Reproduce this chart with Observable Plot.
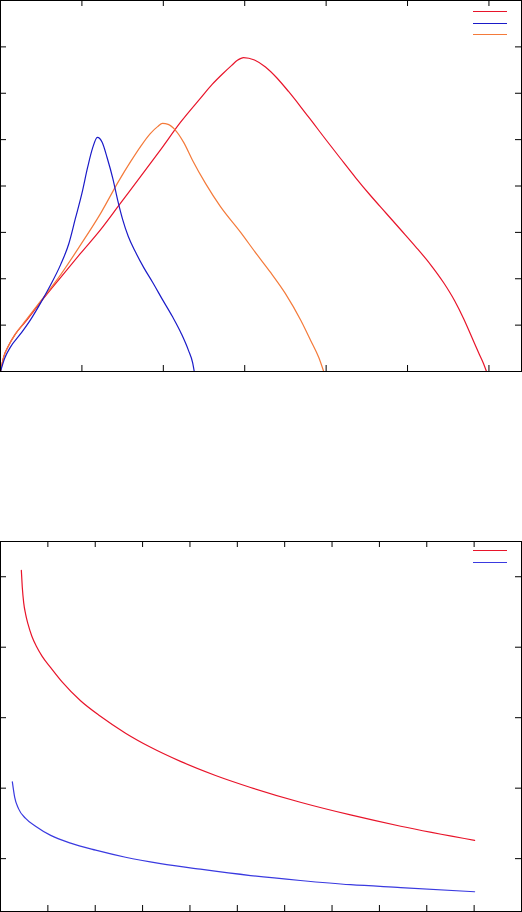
<!DOCTYPE html>
<html>
<head>
<meta charset="utf-8">
<script src="https://cdn.jsdelivr.net/npm/d3@7"></script>
<script src="https://cdn.jsdelivr.net/npm/@observablehq/plot@0.6"></script>
<style>
  html, body { margin: 0; padding: 0; background: #ffffff; }
  #wrap { position: relative; width: 522px; height: 912px; overflow: hidden; font-family: "DejaVu Sans", sans-serif; }
  .panel { position: absolute; left: 0; }
  .legend { position: absolute; left: 473px; width: 34px; }
  .legend .sw { position: absolute; left: 0; width: 34px; height: 0; border-top: 1.3px solid; }
</style>
</head>
<body>
<div id="wrap"></div>
<script>
// ---------- Panel 1 data ----------
const p1XTicks = [1, 2, 3, 4, 5, 6];
const p1YTicks = [1, 2, 3, 4, 5, 6, 7];
const p1XDomain = [0, 6.4];
const p1YDomain = [0, 8];

const redX1 = [0,0.04,0.10,0.18,0.31,0.49,0.74,0.98,1.23,1.47,1.72,1.97,2.21,2.46,2.60,2.73,2.84,2.91,2.985,3.12,3.255,3.39,3.538,3.685,3.845,4.005,4.177,4.361,4.545,4.729,4.914,5.098,5.282,5.442,5.577,5.688,5.786,5.872,5.933,5.97];
const redY1 = [0,0.32,0.56,0.80,1.08,1.49,2.03,2.54,3.06,3.62,4.20,4.79,5.37,5.90,6.19,6.42,6.60,6.71,6.77,6.717,6.566,6.34,6.038,5.714,5.348,4.981,4.593,4.183,3.795,3.429,3.062,2.695,2.307,1.919,1.531,1.143,0.755,0.41,0.173,0];

const orangeX1 = [0,0.04,0.10,0.18,0.31,0.49,0.74,0.98,1.23,1.45,1.60,1.72,1.84,1.93,1.99,2.06,2.15,2.25,2.36,2.52,2.70,2.95,3.13,3.32,3.50,3.69,3.81,3.91,3.97];
const orangeY1 = [0,0.32,0.56,0.80,1.10,1.51,2.09,2.72,3.41,4.10,4.53,4.85,5.13,5.28,5.35,5.33,5.20,4.94,4.55,4.05,3.56,3.00,2.57,2.13,1.68,1.10,0.67,0.30,0];

const blueX1 = [0,0.05,0.12,0.25,0.37,0.49,0.61,0.74,0.84,0.92,1.00,1.07,1.13,1.19,1.25,1.31,1.38,1.44,1.50,1.57,1.66,1.76,1.87,1.99,2.11,2.22,2.31,2.36,2.38];
const blueY1 = [0,0.28,0.52,0.82,1.12,1.47,1.85,2.31,2.76,3.30,3.84,4.40,4.81,5.05,4.94,4.61,4.16,3.69,3.28,2.91,2.57,2.24,1.92,1.55,1.19,0.82,0.45,0.19,0];

// ---------- Panel 2 data ----------
const p2XTicks = [1, 2, 3, 4, 5, 6, 7, 8, 9, 10];
const p2YTicks = [1, 2, 3, 4, 5];
const p2XDomain = [0, 11];
const p2YDomain = [0.25, 5.5];

const redX2 = [0.44,0.46,0.49,0.53,0.58,0.66,0.76,0.88,1.06,1.31,1.69,2.11,2.64,3.17,3.80,4.54,5.28,6.33,7.39,8.45,10.01];
const redY2 = [5.09,4.85,4.63,4.47,4.33,4.16,4.01,3.87,3.71,3.50,3.24,3.02,2.78,2.58,2.38,2.18,2.01,1.80,1.62,1.46,1.26];

const blueX2 = [0.25,0.30,0.38,0.53,0.74,1.06,1.48,2.01,2.64,3.38,4.22,5.28,6.33,7.39,8.45,10.01];
const blueY2 = [2.09,1.87,1.71,1.57,1.46,1.33,1.22,1.12,1.02,0.93,0.85,0.76,0.69,0.63,0.59,0.53];

// ---------- colours ----------
const cRed = "#e8142a";
const cOrange = "#f47a3a";
const cBlue1 = "#1a1ac8";
const cBlue2 = "#3a3ae0";

const W = 522, H = 372, TICK = 6;

function rows(xs, ys) { return xs.map((x, i) => ({x, y: ys[i]})); }

function tickMarks(xt, yt, plotW, plotH) {
  return [
    Plot.tickX(xt, {x: d => d, insetTop: plotH - TICK, stroke: "#000", strokeWidth: 1}),
    Plot.tickX(xt, {x: d => d, insetBottom: plotH - TICK, stroke: "#000", strokeWidth: 1}),
    Plot.tickY(yt, {y: d => d, insetRight: plotW - TICK, stroke: "#000", strokeWidth: 1}),
    Plot.tickY(yt, {y: d => d, insetLeft: plotW - TICK, stroke: "#000", strokeWidth: 1})
  ];
}

function panel(opts) {
  const {xDomain, yDomain, xTicks, yTicks, series, marginTop} = opts;
  const plotW = W - 0 - 1;
  const plotH = H - marginTop - 1;
  return Plot.plot({
    width: W, height: H,
    marginLeft: 0, marginRight: 1, marginTop, marginBottom: 1,
    x: {domain: xDomain, axis: null},
    y: {domain: yDomain, axis: null},
    style: {background: "transparent", overflow: "visible"},
    marks: [
      ...series.map(s => Plot.line(rows(s.x, s.y), {x: "x", y: "y", stroke: s.color, strokeWidth: 1.2, curve: "monotone-x"})),
      ...tickMarks(xTicks, yTicks, plotW, plotH),
      Plot.frame({stroke: "#000", strokeWidth: 1})
    ]
  });
}

function legend(top, colors) {
  const lg = document.createElement("div");
  lg.className = "legend";
  lg.style.top = top + "px";
  colors.forEach((c, i) => {
    const s = document.createElement("div");
    s.className = "sw";
    s.style.top = (i * 11.5) + "px";
    s.style.borderTopColor = c;
    lg.appendChild(s);
  });
  return lg;
}

const wrap = document.getElementById("wrap");

const top1 = panel({
  xDomain: p1XDomain, yDomain: p1YDomain, xTicks: p1XTicks, yTicks: p1YTicks, marginTop: 0,
  series: [
    {x: redX1, y: redY1, color: cRed},
    {x: orangeX1, y: orangeY1, color: cOrange},
    {x: blueX1, y: blueY1, color: cBlue1}
  ]
});
top1.classList.add("panel");
top1.style.top = "0px";
wrap.appendChild(top1);
wrap.appendChild(legend(11, [cRed, cBlue1, cOrange]));

const bot = panel({
  xDomain: p2XDomain, yDomain: p2YDomain, xTicks: p2XTicks, yTicks: p2YTicks, marginTop: 1,
  series: [
    {x: redX2, y: redY2, color: cRed},
    {x: blueX2, y: blueY2, color: cBlue2}
  ]
});
bot.classList.add("panel");
bot.style.top = "540px";
wrap.appendChild(bot);
wrap.appendChild(legend(550, [cRed, cBlue2]));
</script>
</body>
</html>
